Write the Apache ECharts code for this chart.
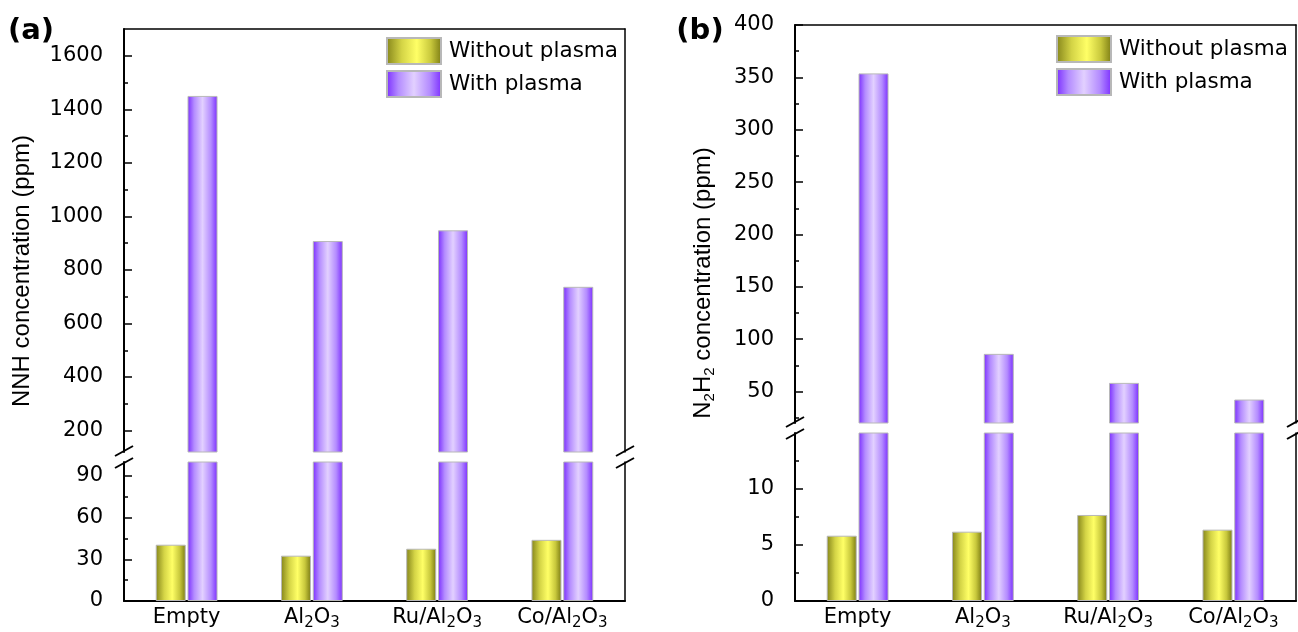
<!DOCTYPE html>
<html>
<head>
<meta charset="utf-8">
<script src="https://cdn.jsdelivr.net/npm/echarts@6/dist/echarts.min.js"></script>
<style>
html,body{margin:0;padding:0;background:#fff;}
#chart{width:1298px;height:632px;}
</style>
</head>
<body>
<div id="chart"></div>
<script>
// ---------- data ----------
const categories = ['Empty', 'Al2O3', 'Ru/Al2O3', 'Co/Al2O3'];
const seriesNames = ['Without plasma', 'With plasma'];

// (a) NNH concentration (ppm)
const nnhWithout = [40.5, 32.6, 37.6, 44.0];
const nnhWith = [1450, 908, 948, 737];
// (b) N2H2 concentration (ppm)
const n2h2Without = [5.83, 6.19, 7.68, 6.37];
const n2h2With = [353.8, 86, 58.3, 42.4];

// broken-axis ranges
const aUpperRange = [120, 1700];
const aLowerRange = [0, 100];
const bUpperRange = [20, 400];
const bLowerRange = [0, 15];

// tick values
const aUpperTicks = [200, 400, 600, 800, 1000, 1200, 1400, 1600];
const aUpperMinor = [300, 500, 700, 900, 1100, 1300, 1500];
const aLowerTicks = [0, 30, 60, 90];
const aLowerMinor = [15, 45, 75];
const bUpperTicks = [50, 100, 150, 200, 250, 300, 350, 400];
const bUpperMinor = [25, 75, 125, 175, 225, 275, 325, 375];
const bLowerTicks = [0, 5, 10];
const bLowerMinor = [2.5, 7.5, 12.5];

// ---------- layout ----------
const FONT = 'DejaVu Sans';
const grids = [
  {left: 124, top: 29, width: 501, height: 423},  // a upper
  {left: 124, top: 462, width: 501, height: 139}, // a lower
  {left: 795, top: 25, width: 501, height: 398},  // b upper
  {left: 795, top: 433, width: 501, height: 168}  // b lower
];
const gridDefs = [
  {range: aUpperRange, ticks: aUpperTicks, minor: aUpperMinor, upper: true, w: nnhWithout, p: nnhWith},
  {range: aLowerRange, ticks: aLowerTicks, minor: aLowerMinor, upper: false, w: nnhWithout, p: nnhWith},
  {range: bUpperRange, ticks: bUpperTicks, minor: bUpperMinor, upper: true, w: n2h2Without, p: n2h2With},
  {range: bLowerRange, ticks: bLowerTicks, minor: bLowerMinor, upper: false, w: n2h2Without, p: n2h2With}
];

const yellow = new echarts.graphic.LinearGradient(0, 0, 1, 0, [
  {offset: 0, color: '#84841a'},
  {offset: 0.28, color: '#d4d446'},
  {offset: 0.55, color: '#ffff66'},
  {offset: 0.8, color: '#c8c83c'},
  {offset: 1, color: '#7a7a12'}
]);
const purple = new echarts.graphic.LinearGradient(0, 0, 1, 0, [
  {offset: 0, color: '#7a2cff'},
  {offset: 0.22, color: '#b48cff'},
  {offset: 0.5, color: '#e2d0ff'},
  {offset: 0.78, color: '#b48cff'},
  {offset: 1, color: '#7a2cff'}
]);

function catLabel(v) {
  return v.split(/(\d)/).filter(s => s.length).map(s => /^\d$/.test(s) ? '{s|' + s + '}' : '{n|' + s + '}').join('');
}

const xAxis = [], yAxis = [], series = [];
gridDefs.forEach((g, i) => {
  xAxis.push({
    type: 'category', gridIndex: i, data: categories, boundaryGap: true,
    position: g.upper ? 'top' : 'bottom',
    axisLine: {show: true, onZero: false, lineStyle: {color: '#000', width: g.upper ? 1.5 : 2}},
    axisTick: {show: false},
    splitLine: {show: false},
    axisLabel: {
      show: !g.upper, interval: 0, margin: 4, color: '#000',
      formatter: catLabel,
      rich: {
        n: {fontFamily: FONT, fontSize: 21, color: '#000', lineHeight: 26},
        s: {fontFamily: FONT, fontSize: 15, color: '#000', lineHeight: 6, verticalAlign: 'bottom'}
      }
    }
  });
  // major ticks + labels + left line
  yAxis.push({
    type: 'value', gridIndex: i, min: g.range[0], max: g.range[1], position: 'left',
    axisLine: {show: true, onZero: false, lineStyle: {color: '#000', width: 2}},
    axisTick: {show: true, inside: true, length: 8, customValues: g.ticks, lineStyle: {color: '#000', width: 1.5}},
    axisLabel: {show: true, customValues: g.ticks, margin: 21, color: '#000', fontFamily: FONT, fontSize: 21,
      formatter: v => String(v)},
    splitLine: {show: false}
  });
  // minor ticks
  yAxis.push({
    type: 'value', gridIndex: i, min: g.range[0], max: g.range[1], position: 'left',
    axisLine: {show: false},
    axisTick: {show: true, inside: true, length: 4, customValues: g.minor, lineStyle: {color: '#000', width: 1.5}},
    axisLabel: {show: false},
    splitLine: {show: false}
  });
  // right frame line
  yAxis.push({
    type: 'value', gridIndex: i, min: g.range[0], max: g.range[1], position: 'right',
    axisLine: {show: true, onZero: false, lineStyle: {color: '#000', width: 1.5}},
    axisTick: {show: false},
    axisLabel: {show: false},
    splitLine: {show: false}
  });
  const lo = g.range[0];
  series.push({
    type: 'bar', name: seriesNames[0], xAxisIndex: i, yAxisIndex: i * 3,
    data: g.upper ? g.w.map(v => (v > lo ? v : '-')) : g.w,
    barWidth: 30, barGap: '6%', clip: true,
    itemStyle: {color: yellow, borderColor: '#b8b8b8', borderWidth: 1}
  });
  series.push({
    type: 'bar', name: seriesNames[1], xAxisIndex: i, yAxisIndex: i * 3,
    data: g.p,
    barWidth: 30, barGap: '6%', clip: true,
    itemStyle: {color: purple, borderColor: '#b8b8b8', borderWidth: 1}
  });
});

// break marks (decoration) at the gaps between upper and lower grids
const graphic = [];
function breakMarks(x, yTop, yBot) {
  [yTop, yBot].forEach(y => {
    graphic.push({
      type: 'line', silent: true, z: 100,
      shape: {x1: x - 9, y1: y + 5, x2: x + 9, y2: y - 5},
      style: {stroke: '#000', lineWidth: 2}
    });
  });
}
[[0, 1], [2, 3]].forEach(([u, l]) => {
  const gu = grids[u], gl = grids[l];
  const yTop = gu.top + gu.height - 1;
  const yBot = gl.top + 1;
  breakMarks(gu.left, yTop, yBot);
  breakMarks(gu.left + gu.width, yTop, yBot);
});

function txt(x, y, text, font, rot, rich) {
  return {
    type: 'text', x: x, y: y, rotation: rot || 0, silent: true,
    style: {
      text: text, font: font, fill: '#000',
      align: 'center', verticalAlign: 'middle',
      textAlign: 'center', textVerticalAlign: 'middle',
      rich: rich
    }
  };
}
graphic.push(txt(31, 31, '(a)', 'bold 29px "DejaVu Sans"'));
graphic.push(txt(700, 31, '(b)', 'bold 29px "DejaVu Sans"'));
graphic.push(txt(22, 271, 'NNH concentration (ppm)', '24px "Liberation Sans"', Math.PI / 2));
graphic.push(txt(703, 283, '{n|N}{s|2}{n|H}{s|2}{n| concentration (ppm)}', '24px "Liberation Sans"', Math.PI / 2, {
  n: {fontFamily: 'Liberation Sans', fontSize: 24, lineHeight: 28, fill: '#000'},
  s: {fontFamily: 'Liberation Sans', fontSize: 15, lineHeight: 8, verticalAlign: 'bottom', fill: '#000'}
}));

const legendBase = {
  orient: 'vertical', itemWidth: 54, itemHeight: 26, itemGap: 5, icon: 'rect', padding: 0,
  selectedMode: false, data: seriesNames,
  textStyle: {fontFamily: FONT, fontSize: 21.5, color: '#000', padding: [0, 0, 0, 3]}
};

const chart = echarts.init(document.getElementById('chart'), null, {renderer: 'canvas'});
chart.setOption({
  animation: false,
  backgroundColor: '#fff',
  grid: grids,
  xAxis: xAxis,
  yAxis: yAxis,
  series: series,
  legend: [
    Object.assign({}, legendBase, {left: 386, top: 37}),
    Object.assign({}, legendBase, {left: 1056, top: 35})
  ],
  graphic: graphic
});
</script>
</body>
</html>
